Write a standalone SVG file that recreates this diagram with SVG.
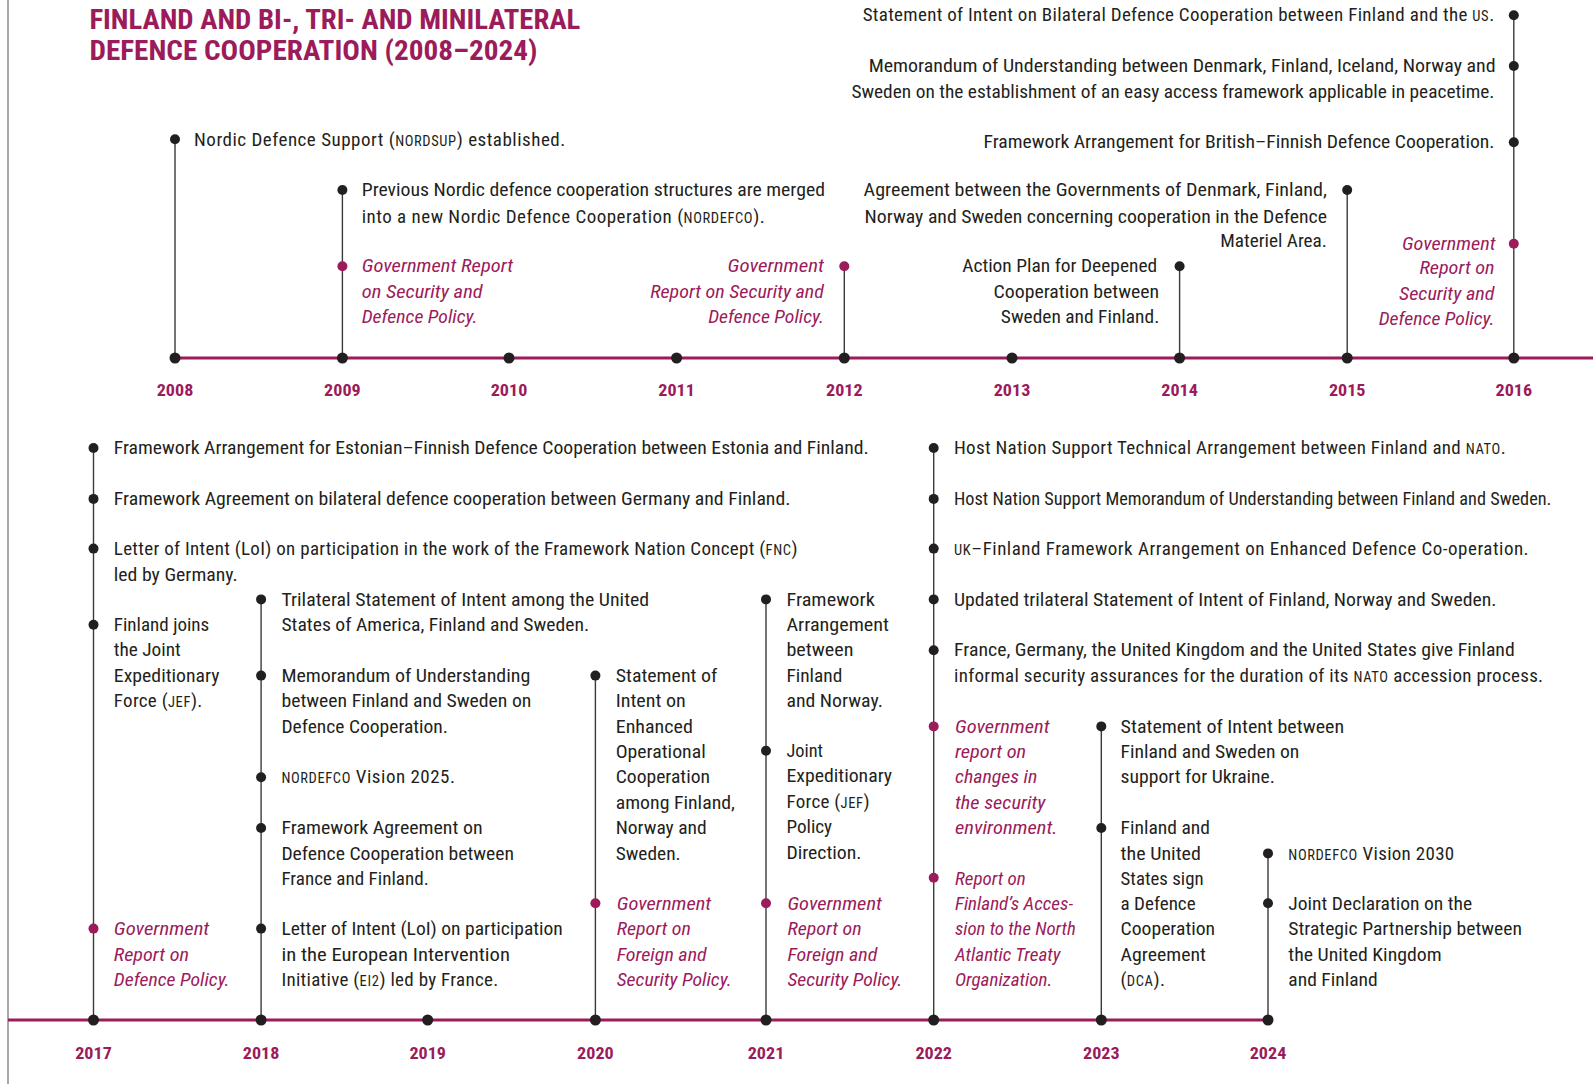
<svg xmlns="http://www.w3.org/2000/svg" width="1593" height="1084" viewBox="0 0 1593 1084">
<style>
text{font-family:Roboto,"Liberation Sans",Arial,sans-serif;font-stretch:condensed;font-size:19px;fill:#231f20}
.ls{letter-spacing:0.3px}
.ls2{letter-spacing:0.5px}
.p{fill:#9b1b5b;font-style:italic}
.sc{font-size:14.5px;letter-spacing:0.6px}
.yr{font-weight:bold;font-size:17px;fill:#9b1b5b;text-anchor:middle}
.ttl{font-weight:bold;font-size:27px;fill:#9b1b5b}
.d{fill:#231f20}
.dp{fill:#9b1b5b}
.stem{stroke:#3a3a3a;stroke-width:1.4;fill:none}
.tl{stroke:#9b1b5b;stroke-width:3;fill:none}
.td{fill:#231f20}
</style>
<rect width="1593" height="1084" fill="#ffffff"/>
<line x1="8" y1="0" x2="8" y2="1084" stroke="#8a8a8a" stroke-width="1.5"/>

<g id="title">
<text class="ttl" x="89.4" y="28.5" textLength="491" lengthAdjust="spacingAndGlyphs">FINLAND AND BI-, TRI- AND MINILATERAL</text>
<text class="ttl" x="89.4" y="60" textLength="448" lengthAdjust="spacingAndGlyphs">DEFENCE COOPERATION (2008–2024)</text>
</g>

<g id="connectors">
<line class="tl" x1="175" y1="358" x2="1593" y2="358"/>
<line class="tl" x1="8" y1="1020" x2="1268" y2="1020"/>
<line class="stem" x1="175" y1="139.2" x2="175" y2="358"/>
<line class="stem" x1="342.4" y1="190" x2="342.4" y2="358"/>
<line class="stem" x1="844.3" y1="266.2" x2="844.3" y2="358"/>
<line class="stem" x1="1179.6" y1="266.2" x2="1179.6" y2="358"/>
<line class="stem" x1="1347.2" y1="190" x2="1347.2" y2="358"/>
<line class="stem" x1="1513.8" y1="15.2" x2="1513.8" y2="358"/>
<line class="stem" x1="93.5" y1="448" x2="93.5" y2="1020"/>
<line class="stem" x1="261.1" y1="599.4" x2="261.1" y2="1020"/>
<line class="stem" x1="595.4" y1="675.6" x2="595.4" y2="1020"/>
<line class="stem" x1="766" y1="599.4" x2="766" y2="1020"/>
<line class="stem" x1="933.7" y1="448" x2="933.7" y2="1020"/>
<line class="stem" x1="1101.3" y1="726.4" x2="1101.3" y2="1020"/>
<line class="stem" x1="1268" y1="853.4" x2="1268" y2="1020"/>
</g>

<g id="years">
<circle class="td" cx="175" cy="358" r="5.5"/><text class="yr" x="175" y="396" textLength="36.6" lengthAdjust="spacingAndGlyphs">2008</text>
<circle class="td" cx="342.4" cy="358" r="5.5"/><text class="yr" x="342.4" y="396" textLength="36.6" lengthAdjust="spacingAndGlyphs">2009</text>
<circle class="td" cx="509" cy="358" r="5.5"/><text class="yr" x="509" y="396" textLength="36.6" lengthAdjust="spacingAndGlyphs">2010</text>
<circle class="td" cx="676.6" cy="358" r="5.5"/><text class="yr" x="676.6" y="396" textLength="36.6" lengthAdjust="spacingAndGlyphs">2011</text>
<circle class="td" cx="844.3" cy="358" r="5.5"/><text class="yr" x="844.3" y="396" textLength="36.6" lengthAdjust="spacingAndGlyphs">2012</text>
<circle class="td" cx="1012" cy="358" r="5.5"/><text class="yr" x="1012" y="396" textLength="36.6" lengthAdjust="spacingAndGlyphs">2013</text>
<circle class="td" cx="1179.6" cy="358" r="5.5"/><text class="yr" x="1179.6" y="396" textLength="36.6" lengthAdjust="spacingAndGlyphs">2014</text>
<circle class="td" cx="1347.2" cy="358" r="5.5"/><text class="yr" x="1347.2" y="396" textLength="36.6" lengthAdjust="spacingAndGlyphs">2015</text>
<circle class="td" cx="1513.8" cy="358" r="5.5"/><text class="yr" x="1513.8" y="396" textLength="36.6" lengthAdjust="spacingAndGlyphs">2016</text>
<circle class="td" cx="93.5" cy="1020" r="5.5"/><text class="yr" x="93.5" y="1059" textLength="36.6" lengthAdjust="spacingAndGlyphs">2017</text>
<circle class="td" cx="261.1" cy="1020" r="5.5"/><text class="yr" x="261.1" y="1059" textLength="36.6" lengthAdjust="spacingAndGlyphs">2018</text>
<circle class="td" cx="427.7" cy="1020" r="5.5"/><text class="yr" x="427.7" y="1059" textLength="36.6" lengthAdjust="spacingAndGlyphs">2019</text>
<circle class="td" cx="595.4" cy="1020" r="5.5"/><text class="yr" x="595.4" y="1059" textLength="36.6" lengthAdjust="spacingAndGlyphs">2020</text>
<circle class="td" cx="766" cy="1020" r="5.5"/><text class="yr" x="766" y="1059" textLength="36.6" lengthAdjust="spacingAndGlyphs">2021</text>
<circle class="td" cx="933.7" cy="1020" r="5.5"/><text class="yr" x="933.7" y="1059" textLength="36.6" lengthAdjust="spacingAndGlyphs">2022</text>
<circle class="td" cx="1101.3" cy="1020" r="5.5"/><text class="yr" x="1101.3" y="1059" textLength="36.6" lengthAdjust="spacingAndGlyphs">2023</text>
<circle class="td" cx="1268" cy="1020" r="5.5"/><text class="yr" x="1268" y="1059" textLength="36.6" lengthAdjust="spacingAndGlyphs">2024</text>
</g>

<!-- 2008 -->
<g id="e2008-nordsup">
<circle class="d" cx="175" cy="139.2" r="5"/>
<text class="ls2" x="194.1" y="146.3">Nordic Defence Support (<tspan class="sc">NORDSUP</tspan>) established.</text>
</g>

<!-- 2009 -->
<g id="e2009-nordefco">
<circle class="d" cx="342.4" cy="190" r="5"/>
<text x="361.7" y="196.1" textLength="463.3" lengthAdjust="spacingAndGlyphs">Previous Nordic defence cooperation structures are merged</text>
<text class="ls2" x="361.7" y="222.5">into a new Nordic Defence Cooperation (<tspan class="sc">NORDEFCO</tspan>).</text>
</g>
<g id="e2009-report">
<circle class="dp" cx="342.4" cy="266.2" r="5"/>
<text class="p" x="361.7" y="272.3" textLength="151.4" lengthAdjust="spacingAndGlyphs">Government Report</text>
<text class="p" x="361.7" y="297.7" textLength="120.9" lengthAdjust="spacingAndGlyphs">on Security and</text>
<text class="p" x="361.7" y="323.1" textLength="115.8" lengthAdjust="spacingAndGlyphs">Defence Policy.</text>
</g>

<!-- 2012 -->
<g id="e2012-report">
<circle class="dp" cx="844.3" cy="266.2" r="5"/>
<text class="p" x="727.5" y="272.3" textLength="96.5" lengthAdjust="spacingAndGlyphs">Government</text>
<text class="p" x="650.2" y="297.7" textLength="173.7" lengthAdjust="spacingAndGlyphs">Report on Security and</text>
<text class="p" x="708.2" y="323.1" textLength="115.8" lengthAdjust="spacingAndGlyphs">Defence Policy.</text>
</g>

<!-- 2014 -->
<g id="e2014-actionplan">
<circle class="d" cx="1179.6" cy="266.2" r="5"/>
<text x="962.2" y="272.3" textLength="195" lengthAdjust="spacingAndGlyphs">Action Plan for Deepened</text>
<text x="993.6" y="297.7" textLength="165.6" lengthAdjust="spacingAndGlyphs">Cooperation between</text>
<text x="1000.8" y="323.1" textLength="158.5" lengthAdjust="spacingAndGlyphs">Sweden and Finland.</text>
</g>

<!-- 2015 -->
<g id="e2015-materiel">
<circle class="d" cx="1347.2" cy="190" r="5"/>
<text x="863.6" y="196.1" textLength="463.3" lengthAdjust="spacingAndGlyphs">Agreement between  the Governments of Denmark, Finland,</text>
<text x="864.6" y="222.5" textLength="462.3" lengthAdjust="spacingAndGlyphs">Norway and Sweden concerning cooperation in the Defence</text>
<text x="1220.2" y="246.9" textLength="106.7" lengthAdjust="spacingAndGlyphs">Materiel Area.</text>
</g>

<!-- 2016 -->
<g id="e2016-us">
<circle class="d" cx="1513.8" cy="15.2" r="5"/>
<text class="ls" x="1494.5" y="21.3" text-anchor="end">Statement of Intent on Bilateral Defence Cooperation between Finland and the <tspan class="sc">US</tspan>.</text>
</g>
<g id="e2016-easyaccess">
<circle class="d" cx="1513.8" cy="66" r="5"/>
<text x="868.7" y="72.1" textLength="626.9" lengthAdjust="spacingAndGlyphs">Memorandum of Understanding between Denmark, Finland, Iceland, Norway and</text>
<text x="851.4" y="97.5" textLength="643.1" lengthAdjust="spacingAndGlyphs">Sweden on the establishment of an easy access framework applicable in peacetime.</text>
</g>
<g id="e2016-british">
<circle class="d" cx="1513.8" cy="142.2" r="5"/>
<text x="983.5" y="148.3" textLength="511" lengthAdjust="spacingAndGlyphs">Framework Arrangement for British–Finnish Defence Cooperation.</text>
</g>
<g id="e2016-report">
<circle class="dp" cx="1513.8" cy="243.8" r="5"/>
<text class="p" x="1402" y="249.9" textLength="93.5" lengthAdjust="spacingAndGlyphs">Government</text>
<text class="p" x="1419.4" y="274.3" textLength="75.2" lengthAdjust="spacingAndGlyphs">Report on</text>
<text class="p" x="1399" y="299.7" textLength="95.5" lengthAdjust="spacingAndGlyphs">Security and</text>
<text class="p" x="1378.7" y="325.1" textLength="115.8" lengthAdjust="spacingAndGlyphs">Defence Policy.</text>
</g>

<!-- 2017 -->
<g id="e2017-estonia">
<circle class="d" cx="93.5" cy="448" r="5"/>
<text x="113.8" y="454.2" textLength="754.9" lengthAdjust="spacingAndGlyphs">Framework Arrangement for Estonian–Finnish Defence Cooperation between Estonia and Finland.</text>
</g>
<g id="e2017-germany">
<circle class="d" cx="93.5" cy="498.9" r="5"/>
<text x="113.8" y="505" textLength="676.7" lengthAdjust="spacingAndGlyphs">Framework Agreement on bilateral defence cooperation between Germany and Finland.</text>
</g>
<g id="e2017-fnc">
<circle class="d" cx="93.5" cy="548.6" r="5"/>
<text class="ls" x="113.8" y="554.7">Letter of Intent (LoI) on participation in the work of the Framework Nation Concept (<tspan class="sc">FNC</tspan>)</text>
<text x="113.8" y="581.2" textLength="124" lengthAdjust="spacingAndGlyphs">led by Germany.</text>
</g>
<g id="e2017-jef">
<circle class="d" cx="93.5" cy="624.8" r="5"/>
<text x="113.8" y="630.9" textLength="95.5" lengthAdjust="spacingAndGlyphs">Finland joins</text>
<text x="113.8" y="656.3" textLength="67" lengthAdjust="spacingAndGlyphs">the Joint</text>
<text x="113.8" y="681.7" textLength="105.7" lengthAdjust="spacingAndGlyphs">Expeditionary</text>
<text class="ls" x="113.8" y="707.1">Force (<tspan class="sc">JEF</tspan>).</text>
</g>
<g id="e2017-report">
<circle class="dp" cx="93.5" cy="928.6" r="5"/>
<text class="p" x="113.8" y="934.7" textLength="95.5" lengthAdjust="spacingAndGlyphs">Government</text>
<text class="p" x="113.8" y="960.6" textLength="75.2" lengthAdjust="spacingAndGlyphs">Report on</text>
<text class="p" x="113.8" y="985.5" textLength="115.8" lengthAdjust="spacingAndGlyphs">Defence Policy.</text>
</g>

<!-- 2018 -->
<g id="e2018-trilateral">
<circle class="d" cx="261.1" cy="599.4" r="5"/>
<text x="281.4" y="605.5" textLength="367.8" lengthAdjust="spacingAndGlyphs">Trilateral Statement of Intent among the United</text>
<text x="281.4" y="630.9" textLength="307.8" lengthAdjust="spacingAndGlyphs">States of America,  Finland and Sweden.</text>
</g>
<g id="e2018-mou">
<circle class="d" cx="261.1" cy="675.6" r="5"/>
<text x="281.4" y="681.7" textLength="248.9" lengthAdjust="spacingAndGlyphs">Memorandum of Understanding</text>
<text x="281.4" y="707.1" textLength="250" lengthAdjust="spacingAndGlyphs">between Finland and Sweden on</text>
<text x="281.4" y="732.5" textLength="166.6" lengthAdjust="spacingAndGlyphs">Defence Cooperation.</text>
</g>
<g id="e2018-vision2025">
<circle class="d" cx="261.1" cy="777.2" r="5"/>
<text class="ls2" x="281.4" y="783.3"><tspan class="sc">NORDEFCO</tspan> Vision 2025.</text>
</g>
<g id="e2018-france">
<circle class="d" cx="261.1" cy="828" r="5"/>
<text x="281.4" y="834.1" textLength="201.2" lengthAdjust="spacingAndGlyphs">Framework Agreement on</text>
<text x="281.4" y="859.5" textLength="232.7" lengthAdjust="spacingAndGlyphs">Defence Cooperation between</text>
<text x="281.4" y="884.9" textLength="147.3" lengthAdjust="spacingAndGlyphs">France and Finland.</text>
</g>
<g id="e2018-ei2">
<circle class="d" cx="261.1" cy="928.6" r="5"/>
<text x="281.4" y="934.7" textLength="281.4" lengthAdjust="spacingAndGlyphs">Letter of Intent (LoI) on participation</text>
<text x="281.4" y="960.6" textLength="228.6" lengthAdjust="spacingAndGlyphs">in the European Intervention</text>
<text class="ls" x="281.4" y="985.5">Initiative (<tspan class="sc">EI2</tspan>) led by France.</text>
</g>

<!-- 2020 -->
<g id="e2020-operational">
<circle class="d" cx="595.4" cy="675.6" r="5"/>
<text x="615.7" y="681.7" textLength="101.6" lengthAdjust="spacingAndGlyphs">Statement of</text>
<text x="615.7" y="707.1" textLength="70.1" lengthAdjust="spacingAndGlyphs">Intent on</text>
<text x="615.7" y="732.5" textLength="77.2" lengthAdjust="spacingAndGlyphs">Enhanced</text>
<text x="615.7" y="757.9" textLength="90" lengthAdjust="spacingAndGlyphs">Operational</text>
<text x="615.7" y="783.3" textLength="94.3" lengthAdjust="spacingAndGlyphs">Cooperation</text>
<text x="615.7" y="808.7" textLength="119.3" lengthAdjust="spacingAndGlyphs">among Finland,</text>
<text x="615.7" y="834.1" textLength="91" lengthAdjust="spacingAndGlyphs">Norway and</text>
<text x="615.7" y="859.5" textLength="65" lengthAdjust="spacingAndGlyphs">Sweden.</text>
</g>
<g id="e2020-report">
<circle class="dp" cx="595.4" cy="903.2" r="5"/>
<text class="p" x="616.7" y="909.8" textLength="94.5" lengthAdjust="spacingAndGlyphs">Government</text>
<text class="p" x="616.7" y="934.7" textLength="74.2" lengthAdjust="spacingAndGlyphs">Report on</text>
<text class="p" x="616.7" y="960.6" textLength="90" lengthAdjust="spacingAndGlyphs">Foreign and</text>
<text class="p" x="616.7" y="985.5" textLength="115" lengthAdjust="spacingAndGlyphs">Security Policy.</text>
</g>

<!-- 2021 -->
<g id="e2021-norway">
<circle class="d" cx="766" cy="599.4" r="5"/>
<text x="786.4" y="605.5" textLength="88.4" lengthAdjust="spacingAndGlyphs">Framework</text>
<text x="786.4" y="630.9" textLength="102.6" lengthAdjust="spacingAndGlyphs">Arrangement</text>
<text x="786.4" y="656.3" textLength="67" lengthAdjust="spacingAndGlyphs">between</text>
<text x="786.4" y="681.7" textLength="55.9" lengthAdjust="spacingAndGlyphs">Finland</text>
<text x="786.4" y="707.1" textLength="96.5" lengthAdjust="spacingAndGlyphs">and Norway.</text>
</g>
<g id="e2021-jef">
<circle class="d" cx="766" cy="750.8" r="5"/>
<text x="786.4" y="756.9" textLength="36.6" lengthAdjust="spacingAndGlyphs">Joint</text>
<text x="786.4" y="782.3" textLength="105.7" lengthAdjust="spacingAndGlyphs">Expeditionary</text>
<text class="ls" x="786.4" y="807.7">Force (<tspan class="sc">JEF</tspan>)</text>
<text x="786.4" y="833.1" textLength="45.7" lengthAdjust="spacingAndGlyphs">Policy</text>
<text x="786.4" y="858.5" textLength="75.2" lengthAdjust="spacingAndGlyphs">Direction.</text>
</g>
<g id="e2021-report">
<circle class="dp" cx="766" cy="903.2" r="5"/>
<text class="p" x="787.4" y="909.8" textLength="94.5" lengthAdjust="spacingAndGlyphs">Government</text>
<text class="p" x="787.4" y="934.7" textLength="74.2" lengthAdjust="spacingAndGlyphs">Report on</text>
<text class="p" x="787.4" y="960.6" textLength="90" lengthAdjust="spacingAndGlyphs">Foreign and</text>
<text class="p" x="787.4" y="985.5" textLength="115" lengthAdjust="spacingAndGlyphs">Security Policy.</text>
</g>

<!-- 2022 -->
<g id="e2022-hns-nato">
<circle class="d" cx="933.7" cy="448" r="5"/>
<text class="ls" x="954" y="454.2">Host Nation Support Technical Arrangement between Finland and <tspan class="sc">NATO</tspan>.</text>
</g>
<g id="e2022-hns-sweden">
<circle class="d" cx="933.7" cy="498.9" r="5"/>
<text x="954" y="505" textLength="597.4" lengthAdjust="spacingAndGlyphs">Host Nation Support Memorandum of Understanding between Finland and Sweden.</text>
</g>
<g id="e2022-uk">
<circle class="d" cx="933.7" cy="548.6" r="5"/>
<text class="ls2" x="954" y="554.7"><tspan class="sc">UK</tspan>–Finland Framework Arrangement on Enhanced Defence Co-operation.</text>
</g>
<g id="e2022-trilateral">
<circle class="d" cx="933.7" cy="599.4" r="5"/>
<text x="954" y="605.5" textLength="542.5" lengthAdjust="spacingAndGlyphs">Updated trilateral Statement of Intent of Finland, Norway and Sweden.</text>
</g>
<g id="e2022-assurances">
<circle class="d" cx="933.7" cy="650.2" r="5"/>
<text x="954" y="656.3" textLength="560.8" lengthAdjust="spacingAndGlyphs">France, Germany, the United Kingdom and the United States give Finland</text>
<text class="ls" x="954" y="681.7">informal security assurances for the duration of its <tspan class="sc">NATO</tspan> accession process.</text>
</g>
<g id="e2022-report-changes">
<circle class="dp" cx="933.7" cy="726.4" r="5"/>
<text class="p" x="955" y="732.5" textLength="94.5" lengthAdjust="spacingAndGlyphs">Government</text>
<text class="p" x="955" y="757.9" textLength="71.1" lengthAdjust="spacingAndGlyphs">report on</text>
<text class="p" x="955" y="783.3" textLength="82.3" lengthAdjust="spacingAndGlyphs">changes in</text>
<text class="p" x="955" y="808.7" textLength="90.4" lengthAdjust="spacingAndGlyphs">the security</text>
<text class="p" x="955" y="834.1" textLength="102.6" lengthAdjust="spacingAndGlyphs">environment.</text>
</g>
<g id="e2022-report-nato">
<circle class="dp" cx="933.7" cy="877.8" r="5"/>
<text class="p" x="955" y="884.9" textLength="70.7" lengthAdjust="spacingAndGlyphs">Report on</text>
<text class="p" x="955" y="909.8" textLength="118" lengthAdjust="spacingAndGlyphs">Finland’s Acces-</text>
<text class="p" x="955" y="934.7" textLength="120.7" lengthAdjust="spacingAndGlyphs">sion to the North</text>
<text class="p" x="955" y="960.6" textLength="105.5" lengthAdjust="spacingAndGlyphs">Atlantic Treaty</text>
<text class="p" x="955" y="985.5" textLength="97.3" lengthAdjust="spacingAndGlyphs">Organization.</text>
</g>

<!-- 2023 -->
<g id="e2023-ukraine">
<circle class="d" cx="1101.3" cy="726.4" r="5"/>
<text x="1120.6" y="732.5" textLength="223.5" lengthAdjust="spacingAndGlyphs">Statement of Intent between</text>
<text x="1120.6" y="757.9" textLength="178.8" lengthAdjust="spacingAndGlyphs">Finland and Sweden on</text>
<text x="1120.6" y="783.3" textLength="154.4" lengthAdjust="spacingAndGlyphs">support for Ukraine.</text>
</g>
<g id="e2023-dca">
<circle class="d" cx="1101.3" cy="828" r="5"/>
<text x="1120.6" y="834.1" textLength="89.4" lengthAdjust="spacingAndGlyphs">Finland and</text>
<text x="1120.6" y="859.5" textLength="80.3" lengthAdjust="spacingAndGlyphs">the United</text>
<text x="1120.6" y="884.9" textLength="83" lengthAdjust="spacingAndGlyphs">States sign</text>
<text x="1120.6" y="909.8" textLength="75" lengthAdjust="spacingAndGlyphs">a Defence</text>
<text x="1120.6" y="934.7" textLength="94.5" lengthAdjust="spacingAndGlyphs">Cooperation</text>
<text x="1120.6" y="960.6" textLength="85.3" lengthAdjust="spacingAndGlyphs">Agreement</text>
<text class="ls" x="1120.6" y="985.5">(<tspan class="sc">DCA</tspan>).</text>
</g>

<!-- 2024 -->
<g id="e2024-vision2030">
<circle class="d" cx="1268" cy="853.4" r="5"/>
<text class="ls" x="1288.3" y="859.5"><tspan class="sc">NORDEFCO</tspan> Vision 2030</text>
</g>
<g id="e2024-uk">
<circle class="d" cx="1268" cy="903.2" r="5"/>
<text x="1288.3" y="909.8" textLength="183.9" lengthAdjust="spacingAndGlyphs">Joint Declaration on the</text>
<text x="1288.3" y="934.7" textLength="233.7" lengthAdjust="spacingAndGlyphs">Strategic Partnership between</text>
<text x="1288.3" y="960.6" textLength="153.4" lengthAdjust="spacingAndGlyphs">the United Kingdom</text>
<text x="1288.3" y="985.5" textLength="89.4" lengthAdjust="spacingAndGlyphs">and Finland</text>
</g>
</svg>
